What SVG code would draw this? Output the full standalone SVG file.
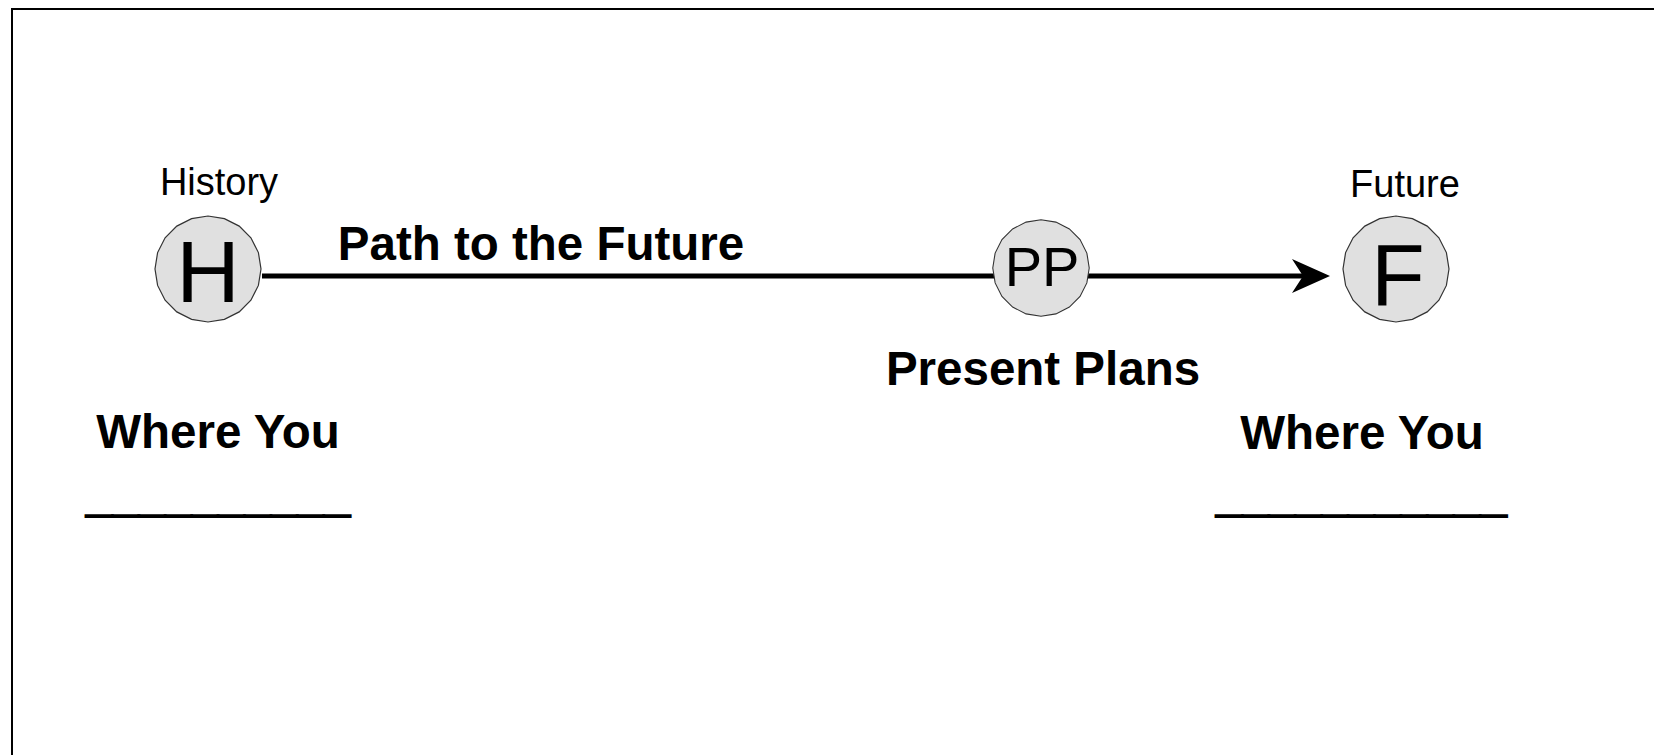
<svg xmlns="http://www.w3.org/2000/svg" xmlns:xlink="http://www.w3.org/1999/xlink" width="1654" height="755" viewBox="0 0 1654 755">
<style>
.t{font-family:"Liberation Sans",Arial,sans-serif;fill:#000}
.b{font-weight:bold;font-size:47.5px}
.s{font-size:38px}
.big{font-size:88px}
.u{stroke:#000;stroke-width:2}
.node{fill:#e0e0e0;stroke:#333;stroke-width:1.2}
.conn{stroke:#000;stroke-width:5;fill:none}
</style>
<defs>
<polygon id="circ" points="53,0 50.4,16.4 42.9,31.2 31.2,42.9 16.4,50.4 0,53 -16.4,50.4 -31.2,42.9 -42.9,31.2 -50.4,16.4 -53,0 -50.4,-16.4 -42.9,-31.2 -31.2,-42.9 -16.4,-50.4 0,-53 16.4,-50.4 31.2,-42.9 42.9,-31.2 50.4,-16.4"/>
<marker id="arrow" markerUnits="userSpaceOnUse" markerWidth="40" markerHeight="36" viewBox="0 0 40 36" refX="11" refY="17" orient="auto">
<path d="M0,0 L38,17 L0,34 L11,17 Z" fill="#000"/>
</marker>
</defs>
<rect width="1654" height="755" fill="#fff"/>
<rect x="12" y="9" width="1700" height="800" fill="none" stroke="#000" stroke-width="2"/>
<g id="connectors">
<path class="conn" d="M262,276 L1303,276" marker-end="url(#arrow)"/>
</g>
<g id="node-H">
<use xlink:href="#circ" class="node" transform="translate(208,269)"/>
<text class="t big" x="208" y="302" text-anchor="middle">H</text>
<text class="t s" x="219" y="195" text-anchor="middle">History</text>
</g>
<g id="node-PP">
<use xlink:href="#circ" class="node" transform="translate(1041,268) scale(0.91)"/>
<text class="t" style="font-size:56px" x="1042" y="286" text-anchor="middle">PP</text>
<text class="t b" x="1043" y="385" text-anchor="middle">Present Plans</text>
</g>
<g id="node-F">
<use xlink:href="#circ" class="node" transform="translate(1396,269)"/>
<text class="t big" x="1398" y="305" text-anchor="middle">F</text>
<text class="t s" x="1405" y="197" text-anchor="middle">Future</text>
</g>
<g id="labels">
<text class="t b" x="541" y="260" text-anchor="middle">Path to the Future</text>
<text class="t b" x="218" y="448" text-anchor="middle">Where You</text>
<text class="t b u" x="86" y="511">__________</text>
<text class="t b" x="1362" y="449" text-anchor="middle">Where You</text>
<text class="t b u" x="1216" y="511">___________</text>
</g>
</svg>
